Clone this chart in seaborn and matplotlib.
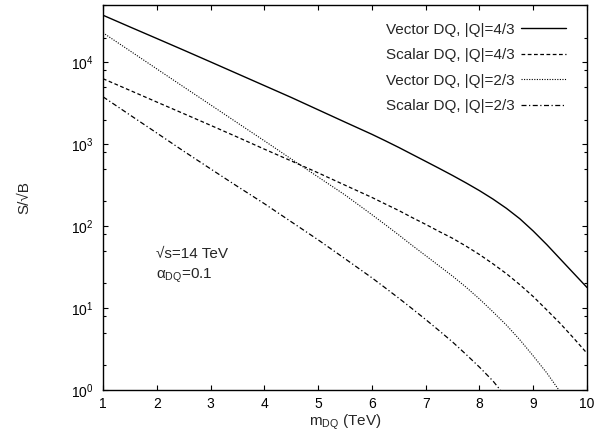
import matplotlib
matplotlib.use("Agg")
import matplotlib.pyplot as plt
import matplotlib.ticker as mticker
import seaborn as sns
import pandas as pd

# ── DATA ──────────────────────────────────────────────────────────────────────
mass = [1.0, 1.5, 2.0, 2.5, 3.0, 3.5, 4.0, 4.5, 5.0, 5.5, 6.0,
        6.25, 6.5, 6.75, 7.0, 7.25, 7.5, 7.75, 8.0,
        8.25, 8.5, 8.75, 9.0, 9.25, 9.5, 9.75, 10.0]

vector_43 = [37500, 27000, 19500, 14060, 10100, 7240, 5190, 3720, 2630, 1860, 1320,
             1100, 912, 750, 617, 507, 415, 337, 271,
             214, 165, 123, 87, 59.6, 39.8, 26.6, 17.8]
scalar_43 = [6300, 4540, 3270, 2360, 1700, 1220, 870, 625, 447, 316, 224,
             186, 155, 127, 105, 86, 71, 57, 45,
             34.7, 26.3, 19.3, 13.8, 9.5, 6.5, 4.3, 2.8]
vector_23 = [22900, 13800, 8300, 5000, 3020, 1820, 1100, 660, 398, 240, 138,
             104, 78, 58, 43.6, 32.7, 24.5, 18, 12.9,
             9.0, 6.2, 4.1, 2.6, 1.62, 0.95]
scalar_23 = [3790, 2275, 1370, 822, 500, 305, 188, 113, 68, 40, 23.4,
             17.6, 13.2, 9.8, 7.24, 5.3, 3.85, 2.72, 1.9,
             1.29, 0.81]

labels = ["Vector DQ, |Q|=4/3", "Scalar DQ, |Q|=4/3",
          "Vector DQ, |Q|=2/3", "Scalar DQ, |Q|=2/3"]
series = [vector_43, scalar_43, vector_23, scalar_23]
styles = ["-", (0, (3, 2)), (0, (1, 1.3)), (0, (4, 2, 1, 2))]
widths = [1.0, 0.9, 0.8, 0.9]

# ── STYLE ─────────────────────────────────────────────────────────────────────
sns.set_theme(style="ticks")
plt.rcParams["font.family"] = ["Liberation Sans", "DejaVu Sans"]
plt.rcParams["mathtext.default"] = "regular"
plt.rcParams["font.size"] = 11

fig = plt.figure(figsize=(5.96, 4.45), dpi=100)
ax = fig.add_axes([0.1728, 0.1236, 0.8122, 0.8652])

for vals, lab, ls, lw in zip(series, labels, styles, widths):
    df = pd.DataFrame({"m": mass[:len(vals)], "sb": vals})
    sns.lineplot(data=df, x="m", y="sb", ax=ax, color="black",
                 linestyle=ls, linewidth=lw, label=lab)

ax.set_yscale("log")
ax.set_xlim(1, 10)
ax.set_ylim(1, 5e4)

ax.xaxis.set_major_locator(mticker.MultipleLocator(1))
ax.yaxis.set_major_locator(mticker.LogLocator(base=10, numticks=10))
ax.yaxis.set_minor_locator(mticker.LogLocator(base=10, subs=(2, 5, 8), numticks=10))
ax.yaxis.set_minor_formatter(mticker.NullFormatter())
ax.yaxis.set_major_formatter(mticker.LogFormatterMathtext())

ax.tick_params(which="both", direction="in", top=True, right=True,
               colors="black", labelsize=10)
ax.tick_params(which="major", length=3.6, width=0.8)
ax.tick_params(which="minor", length=2.0, width=0.8)
ax.tick_params(axis="x", pad=5)
ax.tick_params(axis="y", pad=7)
for sp in ax.spines.values():
    sp.set_linewidth(1.0)
    sp.set_color("black")

ax.set_xlabel("m$_{DQ}$ (TeV)", fontsize=11)
ax.set_ylabel("S/√B", fontsize=11)
ax.xaxis.set_label_coords(0.5, -0.058)
ax.yaxis.set_label_coords(-0.148, 0.5)

ax.text(1.98, 46, "√s=14 TeV", fontsize=11, ha="left", va="center")
ax.text(1.98, 24.5, "α$_{DQ}$=0.1", fontsize=11, ha="left", va="center")

ax.legend(loc="upper right", bbox_to_anchor=(0.984, 0.990), frameon=False,
          markerfirst=False, handlelength=2.9, handletextpad=0.45,
          labelspacing=0.75, borderaxespad=0.5, fontsize=11)

fig.savefig("out.png", dpi=100)
